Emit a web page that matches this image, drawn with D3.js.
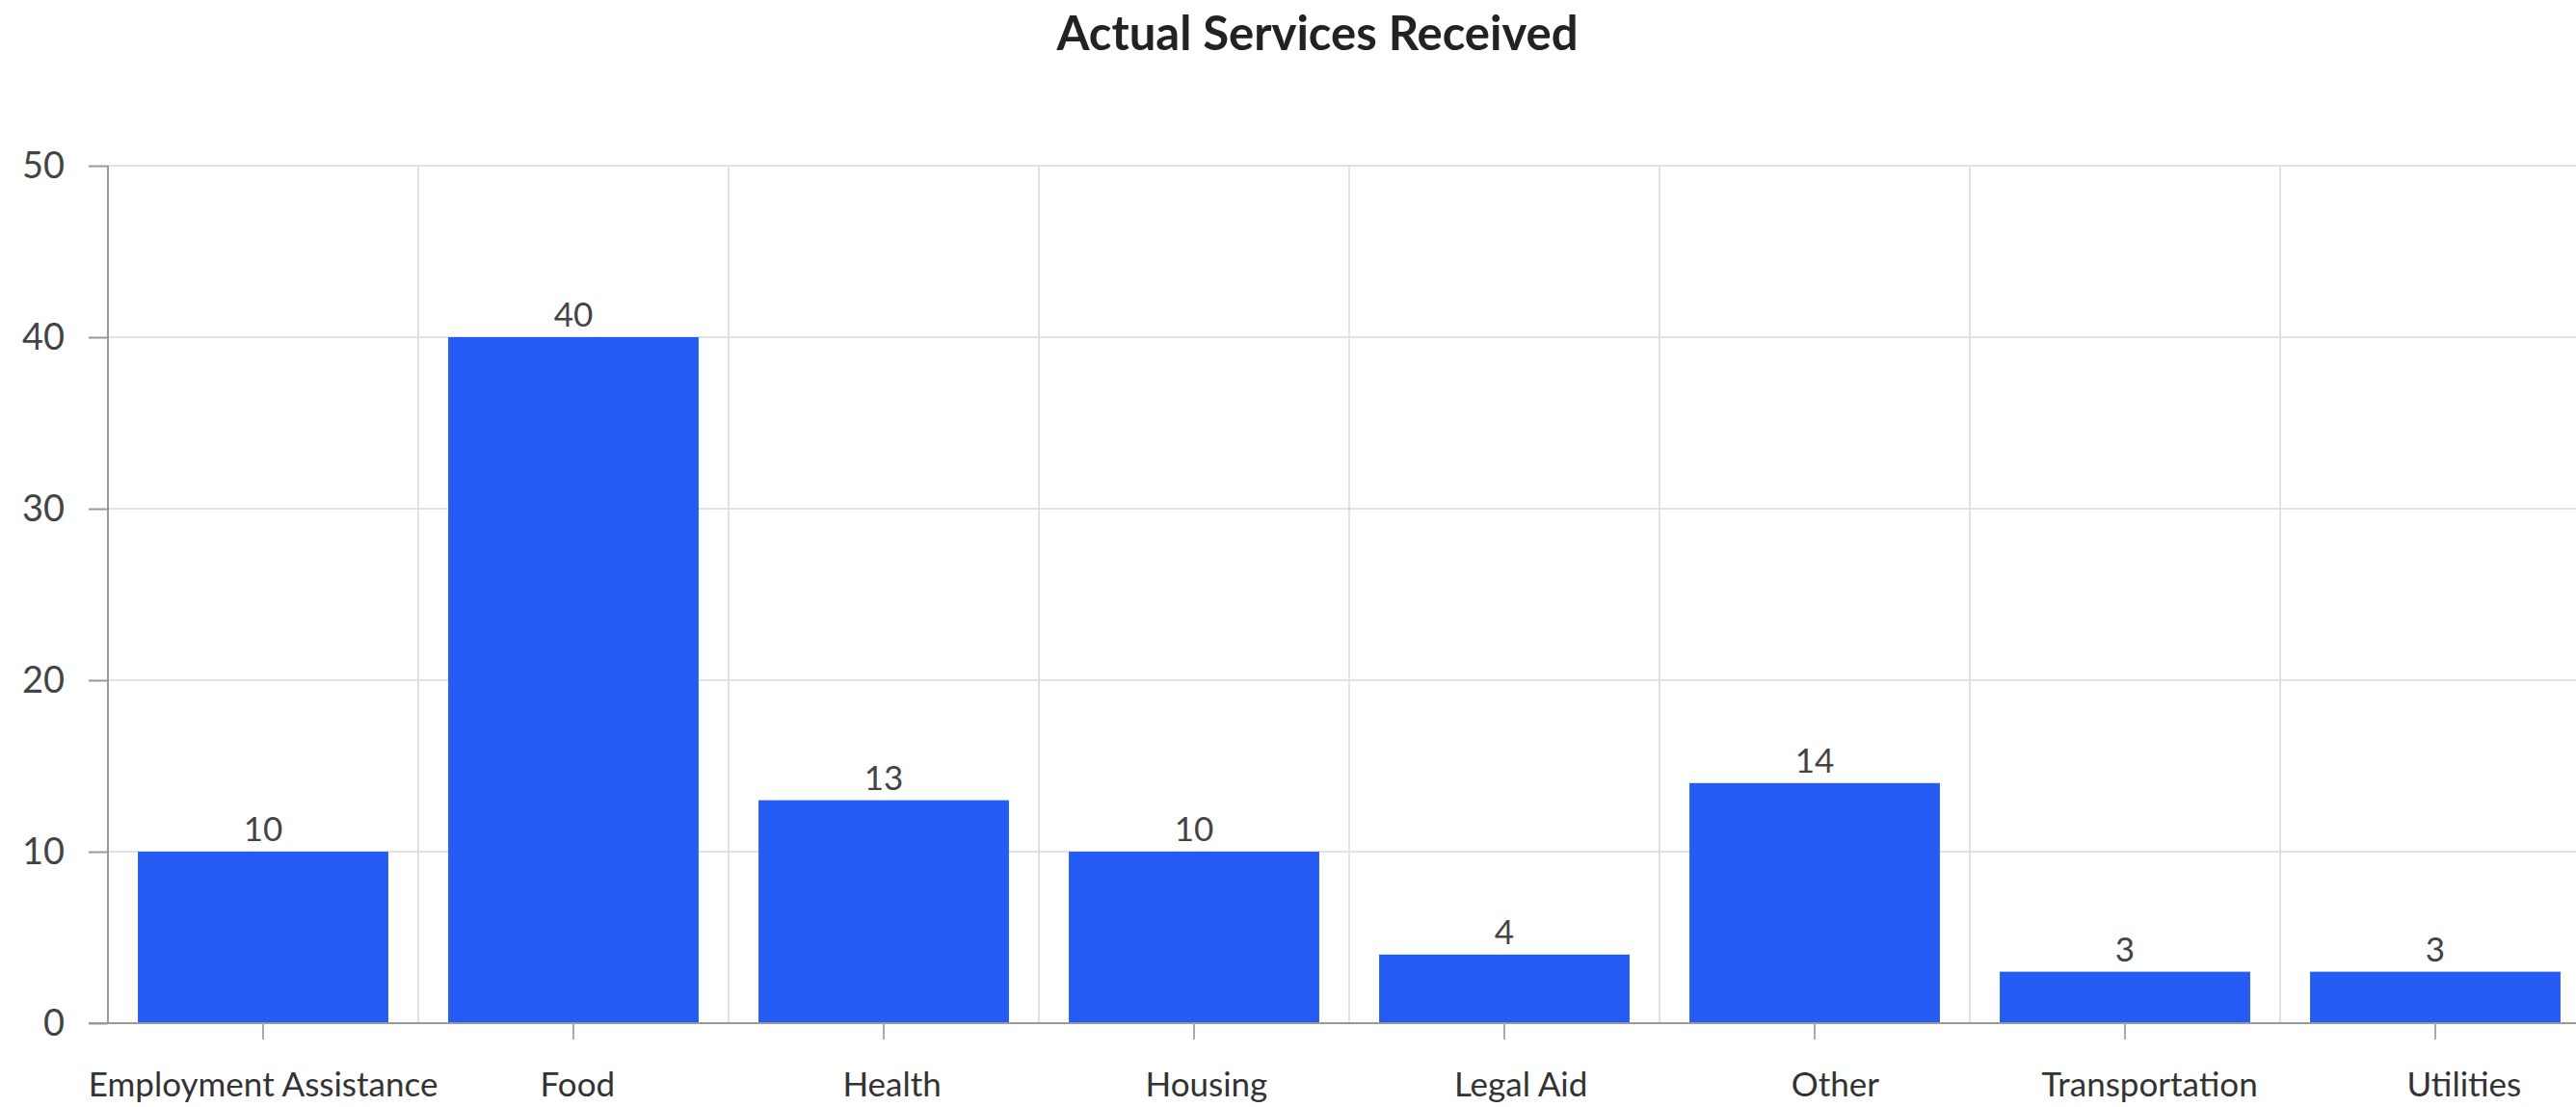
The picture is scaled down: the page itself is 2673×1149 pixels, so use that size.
<!DOCTYPE html>
<html>
<head>
<meta charset="utf-8">
<script src="https://cdn.jsdelivr.net/npm/d3@7"></script>
<style>
  body { margin: 0; background: #fff; }
  svg { display: block; }
</style>
</head>
<body>
<svg id="chart"></svg>
<script>
// data
var categories = ["Employment Assistance", "Food", "Health", "Housing", "Legal Aid", "Other", "Transportation", "Utilities"];
var counts = [10, 40, 13, 10, 4, 14, 3, 3];
var yTicks = [0, 10, 20, 30, 40, 50];
var title = "Actual Services Received";

var dims = {
    width: 2673,
    height: 1149,
    margin: { top: 172, bottom: 87, left: 112, right: -15 }
};

var svg = d3.select("#chart")
    .attr("width", dims.width)
    .attr("height", dims.height)
    .style("font-family", "Lato, 'Open Sans', sans-serif");

var dataset = categories.map((c, i) => ({ name: c, value: counts[i] }));

//x and y scales
var xScale = d3.scaleBand()
    .domain(categories)
    .range([dims.margin.left, dims.width - dims.margin.right])
    .paddingInner(0.193)
    .paddingOuter(0.0965);

// category labels sit on a slightly wider spacing than the bars
var labelScale = d3.scaleBand()
    .domain(categories)
    .range([110, 2720]);

var yScale = d3.scaleLinear()
    .domain([0, 50])
    .range([dims.height - dims.margin.bottom, dims.margin.top]);

var x0 = dims.margin.left, x1 = dims.width - dims.margin.right;

//horizontal grid
svg.append("g")
    .selectAll("line")
    .data(yTicks.filter(d => d > 0))
    .enter()
    .append("line")
    .attr("x1", x0)
    .attr("x2", x1)
    .attr("y1", d => yScale(d))
    .attr("y2", d => yScale(d))
    .attr("stroke", "#e2e2e2")
    .attr("stroke-width", 2);

//vertical grid between bands
var step = xScale.step();
svg.append("g")
    .selectAll("line")
    .data(categories.slice(1))
    .enter()
    .append("line")
    .attr("x1", d => xScale(d) - step * xScale.paddingInner() / 2)
    .attr("x2", d => xScale(d) - step * xScale.paddingInner() / 2)
    .attr("y1", yScale(50))
    .attr("y2", yScale(0))
    .attr("stroke", "#e2e2e2")
    .attr("stroke-width", 2);

//bars
svg.append("g")
    .selectAll("rect")
    .data(dataset)
    .enter()
    .append("rect")
    .attr("x", d => xScale(d.name))
    .attr("width", xScale.bandwidth())
    .attr("y", d => yScale(d.value))
    .attr("height", d => yScale(0) - yScale(d.value))
    .attr("fill", "#245bf5");

//value labels
svg.append("g")
    .selectAll("text")
    .data(dataset)
    .enter()
    .append("text")
    .attr("x", d => xScale(d.name) + xScale.bandwidth() / 2)
    .attr("y", d => yScale(d.value) - 11)
    .attr("text-anchor", "middle")
    .attr("font-size", 35)
    .attr("fill", "#444")
    .text(d => d.value);

//y axis
var yAxis = svg.append("g")
    .attr("transform", `translate(${x0},0)`)
    .call(d3.axisLeft(yScale).tickValues(yTicks).tickSize(20).tickPadding(25));
yAxis.select(".domain").attr("stroke", "#999").attr("stroke-width", 2)
    .attr("d", `M0,${yScale(50)}V${yScale(0)}`);
yAxis.selectAll(".tick line").attr("stroke", "#999").attr("stroke-width", 2);
yAxis.selectAll(".tick text")
    .attr("font-size", 38)
    .attr("font-family", "Lato, 'Open Sans', sans-serif")
    .attr("fill", "#444");

//x axis
var xAxis = svg.append("g")
    .attr("transform", `translate(0,${yScale(0)})`)
    .call(d3.axisBottom(xScale).tickSize(17).tickFormat(""));
xAxis.select(".domain").attr("stroke", "#999").attr("stroke-width", 2)
    .attr("d", `M${x0 - 20},0H${x1}`);
xAxis.selectAll(".tick line").attr("stroke", "#aaa").attr("stroke-width", 2);

//category labels
svg.append("g")
    .selectAll("text")
    .data(categories)
    .enter()
    .append("text")
    .attr("x", d => labelScale(d) + labelScale.bandwidth() / 2)
    .attr("y", 1138)
    .attr("text-anchor", "middle")
    .attr("font-size", 35)
    .attr("fill", "#333")
    .text(d => d);

//title
svg.append("text")
    .attr("x", 1367)
    .attr("y", 52)
    .attr("text-anchor", "middle")
    .attr("font-size", 49)
    .attr("font-weight", "bold")
    .attr("fill", "#222")
    .text(title);
</script>
</body>
</html>
